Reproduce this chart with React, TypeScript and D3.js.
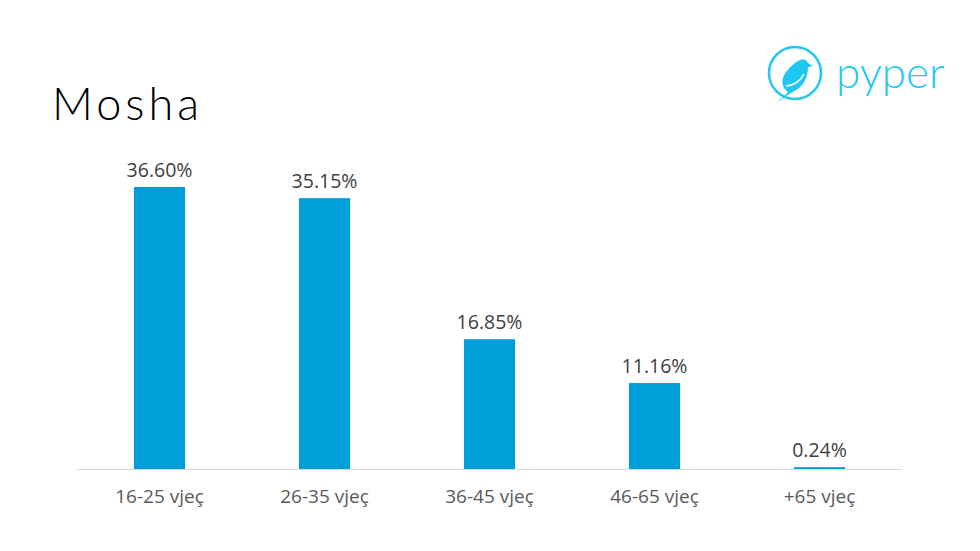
import React from "react";
import * as d3 from "d3";

const categories: string[] = ["16-25 vjeç", "26-35 vjeç", "36-45 vjeç", "46-65 vjeç", "+65 vjeç"];
const values: number[] = [36.6, 35.15, 16.85, 11.16, 0.24];
const valueLabels: string[] = ["36.60%", "35.15%", "16.85%", "11.16%", "0.24%"];
const title = "Mosha";
const logoText = "pyper";

const W = 980;
const H = 551;
const left = 77;
const right = 902;
const baseline = 469;

export default function App() {
  const x = d3.scaleBand<string>().domain(categories).range([left, right]).paddingInner(0.69).paddingOuter(0.345);
  const y = d3.scaleLinear().domain([0, 40]).range([baseline, baseline - 308.2]);
  const font = "'Open Sans', 'Noto Sans', sans-serif";
  return (
    <svg width={W} height={H} style={{ position: "absolute", left: 0, top: 0, background: "#fff" }}>
      <rect x={0} y={0} width={W} height={H} fill="#fff" />
      <text x={52} y={120} fontFamily="Lato, 'DejaVu Sans', sans-serif" fontWeight={300} fontSize={45} fill="#000" letterSpacing={4}>
        {title}
      </text>
      {/* logo */}
      <g>
        <circle cx={795} cy={73} r={26} fill="none" stroke="#1ec8f2" strokeWidth={2.5} />
        <path
          d="M776,104 L788,92 C782,88 780,80 786,72 C790,67 795,62 800,60 C803,58 807,60 808,63 L813,66 L808,67 C808,76 804,86 796,90 L786,96 Z"
          fill="#1ec8f2"
        />
        <path d="M786,86 C792,86 800,82 804,74" fill="none" stroke="#fff" strokeWidth={1.5} />
        <text x={836} y={88} fontFamily="Lato, 'Open Sans', sans-serif" fontWeight={300} fontSize={44} fill="#1ec8f2">
          {logoText}
        </text>
      </g>
      <line x1={left} x2={right} y1={baseline + 0.5} y2={baseline + 0.5} stroke="#d9d9d9" strokeWidth={1} />
      {categories.map((c, i) => (
        <g key={c}>
          <rect x={x(c)!} y={y(values[i])} width={x.bandwidth()} height={baseline - y(values[i])} fill="#009fda" />
          <text
            x={x(c)! + x.bandwidth() / 2}
            y={y(values[i]) - 10}
            textAnchor="middle"
            fontFamily={font}
            fontSize={19.5}
            fill="#404040"
          >
            {valueLabels[i]}
          </text>
          <text x={x(c)! + x.bandwidth() / 2} y={503} textAnchor="middle" fontFamily={font} fontSize={19} fill="#595959">
            {c}
          </text>
        </g>
      ))}
    </svg>
  );
}
